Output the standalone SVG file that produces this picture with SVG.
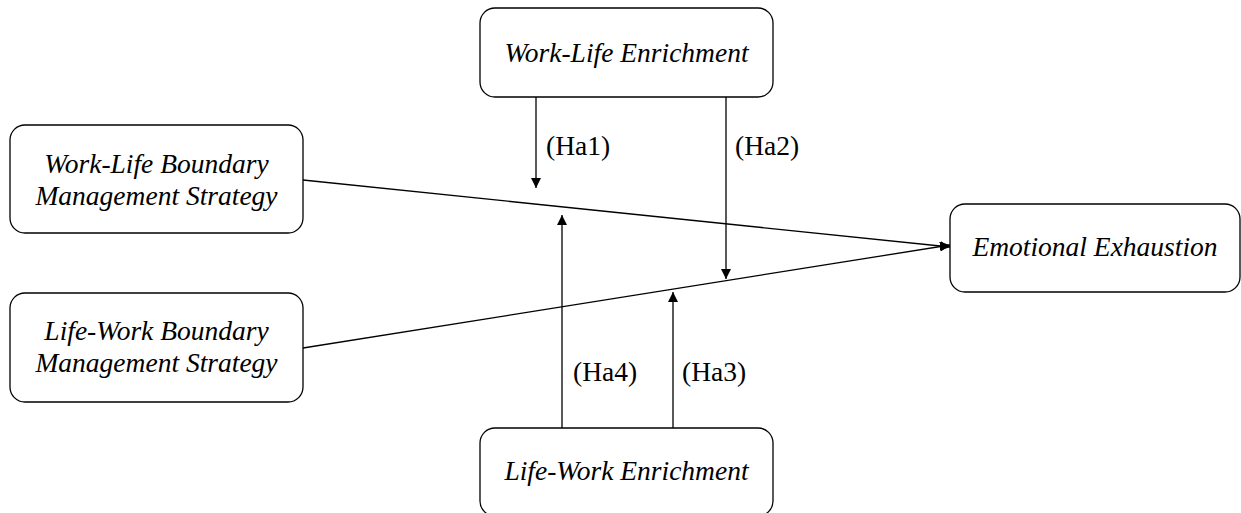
<svg xmlns="http://www.w3.org/2000/svg" width="1241" height="513" viewBox="0 0 1241 513">
<defs>
<style>
.box{fill:#fff;stroke:#000;stroke-width:1.3}
.t{font-family:"Liberation Serif","Times New Roman",serif;font-size:27.5px;font-style:italic;fill:#000;text-anchor:middle}
.l{font-family:"Liberation Serif","Times New Roman",serif;font-size:27.5px;fill:#000}
.c{stroke:#000;stroke-width:1.3;fill:none}
</style>
<marker id="ah" viewBox="0 0 10 10" refX="10" refY="5" markerWidth="10" markerHeight="10" markerUnits="userSpaceOnUse" orient="auto">
<path d="M0,0 L10,5 L0,10 Z" fill="#000"/>
</marker>
</defs>
<rect width="1241" height="513" fill="#fff"/>
<g id="connectors">
<line class="c" x1="303" y1="180" x2="950" y2="247" marker-end="url(#ah)"/>
<line class="c" x1="303" y1="348" x2="950" y2="245" marker-end="url(#ah)"/>
<line class="c" x1="536" y1="97" x2="536" y2="188" marker-end="url(#ah)"/>
<line class="c" x1="726" y1="97" x2="726" y2="279" marker-end="url(#ah)"/>
<line class="c" x1="562" y1="428" x2="562" y2="215" marker-end="url(#ah)"/>
<line class="c" x1="673" y1="428" x2="673" y2="292" marker-end="url(#ah)"/>
<text class="l" x="546" y="155">(Ha1)</text>
<text class="l" x="735" y="155">(Ha2)</text>
<text class="l" x="573" y="381">(Ha4)</text>
<text class="l" x="682" y="381">(Ha3)</text>
</g>
<g id="wle">
<rect class="box" x="480" y="8" width="293" height="89" rx="15"/>
<text class="t" x="626.5" y="62">Work-Life Enrichment</text>
</g>
<g id="wlb">
<rect class="box" x="10" y="125" width="293" height="108" rx="15"/>
<text class="t" x="156.5" y="173">Work-Life Boundary</text>
<text class="t" x="156.5" y="205">Management Strategy</text>
</g>
<g id="lwb">
<rect class="box" x="10" y="293" width="293" height="109" rx="15"/>
<text class="t" x="156.5" y="340">Life-Work Boundary</text>
<text class="t" x="156.5" y="372">Management Strategy</text>
</g>
<g id="ee">
<rect class="box" x="950" y="204" width="290" height="88" rx="15"/>
<text class="t" x="1095" y="256">Emotional Exhaustion</text>
</g>
<g id="lwe">
<rect class="box" x="480" y="428" width="293" height="88" rx="15"/>
<text class="t" x="626.5" y="480">Life-Work Enrichment</text>
</g>
</svg>
